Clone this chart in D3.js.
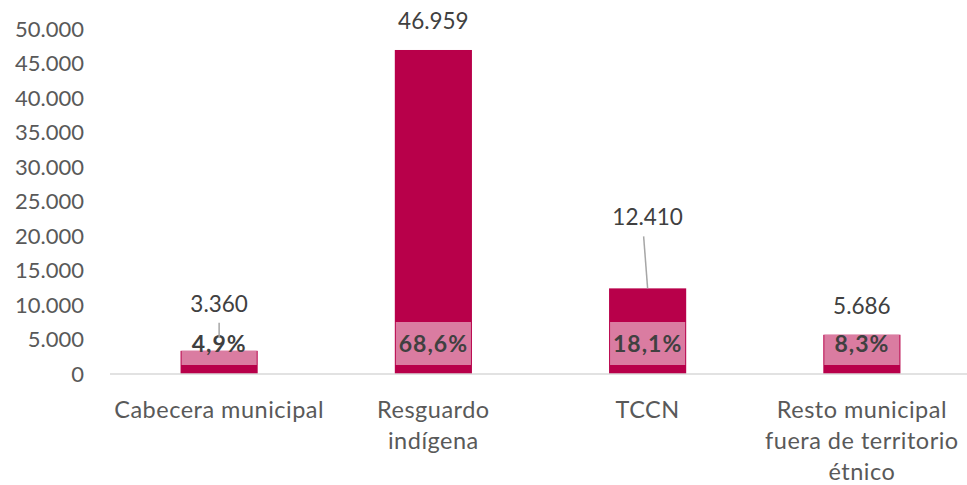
<!DOCTYPE html>
<html>
<head>
<meta charset="utf-8">
<script src="https://cdn.jsdelivr.net/npm/d3@7"></script>
<style>
  body { margin: 0; background: #fff; }
  text { font-family: Lato, "Open Sans", sans-serif; }
</style>
</head>
<body>
<svg id="chart" width="967" height="485"></svg>
<script>
// --- Data ---
const categories = [
  ["Cabecera municipal"],
  ["Resguardo", "indígena"],
  ["TCCN"],
  ["Resto municipal", "fuera de territorio", "étnico"]
];
const values = [3360, 46959, 12410, 5686];
const shares = ["4,9%", "68,6%", "18,1%", "8,3%"];
const yTicks = [0, 5000, 10000, 15000, 20000, 25000, 30000, 35000, 40000, 45000, 50000];

// label lifts (px) for the labels that were dragged up with a leader line
const labelLift = [18, 0, 42, 0];
const leaderDx = [0, 0, -4, 0];

const svg = d3.select("#chart");
const width = +svg.attr("width");

const barColor = "#B8004A";
const pink = "#DA7CA1";
const textGray = "#595959";

const locale = d3.formatLocale({ decimal: ",", thousands: ".", grouping: [3], currency: ["", ""] });
const fmt = locale.format(",d");

// --- Scales ---
const x = d3.scaleBand()
  .domain(d3.range(categories.length))
  .range([112, 969])
  .paddingInner(0.64)
  .paddingOuter(0.32);

const y = d3.scaleLinear()
  .domain([0, 50000])
  .range([374, 29]);

// --- Y axis (labels only) ---
const yAxis = svg.append("g")
  .attr("transform", "translate(84,0)")
  .call(d3.axisLeft(y).tickValues(yTicks).tickFormat(fmt).tickSize(0).tickPadding(0));
yAxis.select(".domain").remove();
yAxis.selectAll("text")
  .attr("font-size", 22)
  .attr("fill", textGray)
  .attr("font-family", "Lato, 'Open Sans', sans-serif");

// --- Bars ---
const bars = svg.append("g");
bars.selectAll("rect.bar")
  .data(values)
  .join("rect")
  .attr("class", "bar")
  .attr("x", (d, i) => x(i))
  .attr("width", x.bandwidth())
  .attr("y", d => y(d))
  .attr("height", d => y(0) - y(d))
  .attr("fill", barColor);

// pink label boxes for the shares, cut to the bar height
const boxTop = 322, boxBottom = 365;
bars.selectAll("rect.box")
  .data(values)
  .join("rect")
  .attr("class", "box")
  .attr("x", (d, i) => x(i) + 1)
  .attr("width", x.bandwidth() - 2)
  .attr("y", d => Math.max(boxTop, y(d)))
  .attr("height", d => boxBottom - Math.max(boxTop, y(d)))
  .attr("fill", pink);

// --- Axis baseline ---
svg.append("line")
  .attr("x1", 110).attr("x2", width)
  .attr("y1", y(0)).attr("y2", y(0))
  .attr("stroke", "#d9d9d9")
  .attr("stroke-width", 1.5);

// --- Share labels ---
svg.selectAll("text.share")
  .data(shares)
  .join("text")
  .attr("class", "share")
  .attr("x", (d, i) => x(i) + x.bandwidth() / 2)
  .attr("y", 352)
  .attr("text-anchor", "middle")
  .attr("font-size", 23)
  .attr("font-weight", "bold")
  .attr("letter-spacing", 1)
  .attr("fill", "#404040")
  .text(d => d);

// --- Leader lines ---
const labelY = (d, i) => y(d) - 21 - labelLift[i];
svg.selectAll("line.leader")
  .data(values.map((v, i) => ({ v, i })).filter(d => labelLift[d.i] > 0))
  .join("line")
  .attr("class", "leader")
  .attr("x1", d => x(d.i) + x.bandwidth() / 2 + leaderDx[d.i])
  .attr("x2", d => x(d.i) + x.bandwidth() / 2)
  .attr("y1", d => labelY(d.v, d.i) + 11)
  .attr("y2", d => d.i === 0 ? y(d.v) - 13 : y(d.v))
  .attr("stroke", "#a6a6a6")
  .attr("stroke-width", 1.5);

// --- Value labels ---
svg.selectAll("text.value")
  .data(values)
  .join("text")
  .attr("class", "value")
  .attr("x", (d, i) => x(i) + x.bandwidth() / 2)
  .attr("y", labelY)
  .attr("text-anchor", "middle")
  .attr("font-size", 22.5)
  .attr("fill", "#404040")
  .text(d => fmt(d));

// --- Category labels ---
const cat = svg.selectAll("text.cat")
  .data(categories)
  .join("text")
  .attr("class", "cat")
  .attr("text-anchor", "middle")
  .attr("font-size", 23.5)
  .attr("letter-spacing", 0.5)
  .attr("fill", textGray);
cat.selectAll("tspan")
  .data((d, i) => d.map(line => ({ line, i })))
  .join("tspan")
  .attr("x", d => x(d.i) + x.bandwidth() / 2)
  .attr("y", (d, j) => 418 + j * 31)
  .text(d => d.line);
</script>
</body>
</html>
